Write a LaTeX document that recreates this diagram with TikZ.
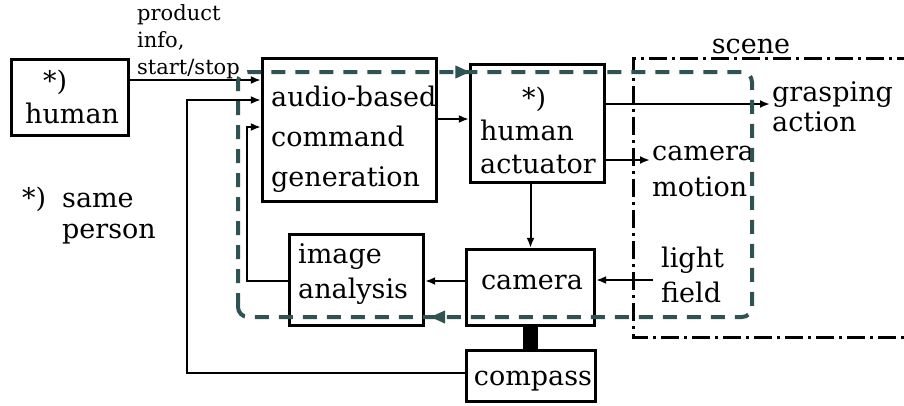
\documentclass[tikz,border=0pt]{standalone}
\usepackage{fontspec}
\setmainfont{DejaVu Serif}
\usetikzlibrary{arrows.meta,decorations.markings,calc}
\definecolor{dteal}{RGB}{47,82,82}
\begin{document}
\begin{tikzpicture}[x=1pt,y=-1pt,
  box/.style={draw, line width=3.3pt, rectangle, inner sep=0pt},
  txt/.style={inner sep=0pt, align=left, font=\fontsize{27}{#1}\selectfont},
  txt/.default=40,
  arr/.style={line width=2pt, -{Latex[length=10pt,width=8pt]}},
  wire/.style={line width=2pt}
]
\useasboundingbox[fill=white] (0,0) rectangle (904,405);

% boxes
\node[box, minimum width=117pt, minimum height=76pt]  (human)   at (70,97.5)   {};
\node[box, minimum width=174pt, minimum height=143pt] (audio)   at (349.5,130) {};
\node[box, minimum width=134pt, minimum height=118pt] (act)     at (537.5,123.5) {};
\node[box, minimum width=128pt, minimum height=76pt]  (camera)  at (530.5,287.5) {};
\node[box, minimum width=134pt, minimum height=91pt]  (image)   at (356.5,280) {};
\node[box, minimum width=129pt, minimum height=51pt]  (compass) at (531,376) {};

% texts
\node[txt=33, anchor=north west] (tHuman) at (25,66.9) {\strut\hspace*{18pt}*)\\\strut human};
\node[txt=40, anchor=north west] (tAudio) at (271,78) {\strut audio-based\\\strut command\\\strut generation};
\node[txt=33, anchor=north west] (tAct) at (480,83.9) {\strut\hspace*{42pt}*)\\\strut human\\\strut actuator};
\node[txt, anchor=base] (tCamera) at (532,289) {camera};
\node[txt=35, anchor=north west] (tImage) at (298,238.5) {\strut image\\\strut analysis};
\node[txt, anchor=base] (tCompass) at (533,385) {compass};
\node[txt=30, anchor=north west] (tGrasp) at (772,80) {\strut grasping\\\strut action};
\node[txt=36, anchor=north west] (tCamMot) at (652,134.8) {\strut camera\\\strut motion};
\node[txt=35, anchor=north west] (tLight) at (661,242.5) {\strut light\\\strut field};
\node[txt, anchor=base] (tScene) at (751,53) {scene};
\node[inner sep=0pt, align=left, font=\fontsize{21}{27}\selectfont, anchor=north west] (tProd) at (137,1.1)
  {\strut product\\\strut info,\\\strut start/stop};
\node[txt=31, anchor=north west] (tSame) at (22,185.3) {\strut\makebox[40pt][l]{*)}same\\\strut\hspace*{40pt}person};

% y levels and corners
\coordinate (y80) at (0,80);
\coordinate (y119) at (0,119);
\coordinate (y104) at (0,104);
\coordinate (y160) at (0,160);
\coordinate (y280) at (0,280);
\coordinate (y281) at (0,281);
\coordinate (y373) at (0,373);
\coordinate (c1) at (247,127);
\coordinate (c2) at (187,100);

% connectors
\draw[arr] (human.east |- y80) -- (audio.west |- y80);
\draw[arr] (audio.east |- y119) -- (act.west |- y119);
\draw[arr] (act.east |- y104) -- ($(tGrasp.west |- y104)+(-2,0)$);
\draw[arr] (act.east |- y160) -- ($(tCamMot.west |- y160)+(-2,0)$);
\draw[arr] (camera.north |- act.south) -- (camera.north);
\draw[arr] ($(tLight.west |- y280)+(-8,0)$) -- (camera.east |- y280);
\draw[arr] (camera.west |- y281) -- (image.east |- y281);
\draw[arr] (image.west |- y281) -| (c1) -- (audio.west |- c1);
\draw[arr] (compass.west |- y373) -| (c2) -- (audio.west |- c2);
\draw[line width=15pt] (camera.south) -- (camera.south |- compass.north);

% scene boundary
\draw[line width=3pt, dash pattern=on 18pt off 5pt on 3pt off 5pt]
  (915,58) -- (633,58) -- (633,337) -- (915,337);

% dashed loop
\draw[dteal, line width=4pt, dash pattern=on 14pt off 10pt, rounded corners=10pt,
  postaction={decorate, decoration={markings,
    mark=at position 463pt with {\arrow[solid]{Triangle[length=15pt,width=12pt]}},
    mark=at position 1303pt with {\arrow[solid]{Triangle[length=15pt,width=12pt]}}}}]
  (238,317) -- (238,72) -- (752,72) -- (752,317) -- cycle;
\end{tikzpicture}
\end{document}
